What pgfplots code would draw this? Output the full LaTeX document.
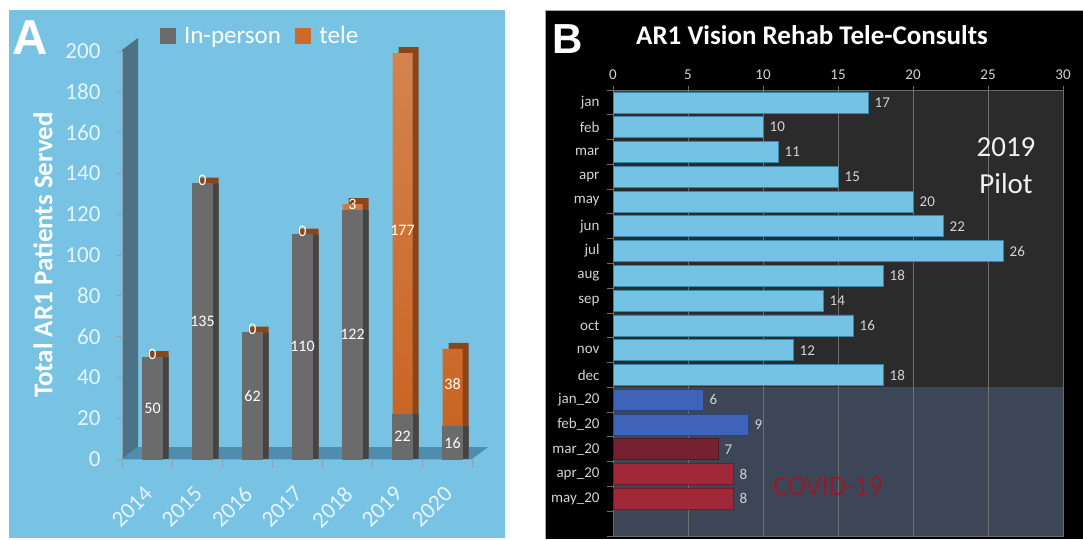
\documentclass[border=0pt]{standalone}
\usepackage{pgfplots}
\pgfplotsset{compat=1.18}
\usepackage{pgfplotstable}
\usepackage{fontspec}
\setmainfont{Carlito}
\newfontfamily\arialfont{Liberation Sans}
\definecolor{skyA}{HTML}{78C3E4}
\definecolor{wallA}{HTML}{4B7286}
\definecolor{floorA}{HTML}{4F8DAE}
\definecolor{axisA}{HTML}{8FA3B0}
\definecolor{grayF}{HTML}{6B6B6B}
\definecolor{grayS}{HTML}{444444}
\definecolor{orF}{HTML}{C8621F}
\definecolor{orT}{HTML}{D4834F}
\definecolor{orL}{HTML}{CB6A2B}
\definecolor{orS}{HTML}{8A4519}
\definecolor{lbl}{HTML}{E4F4FB}
\definecolor{panelB}{HTML}{2B2B2B}
\definecolor{slateB}{HTML}{3D4657}
\definecolor{barL}{HTML}{74C3E5}
\definecolor{barLedge}{HTML}{3A86A8}
\definecolor{barB}{HTML}{3F63B9}
\definecolor{barDR}{HTML}{76212F}
\definecolor{barR}{HTML}{A12838}
\definecolor{covid}{HTML}{8E1D2D}
\definecolor{txtB}{HTML}{D4D4D4}
\definecolor{tickB}{HTML}{6B6B6B}
\definecolor{gridB}{HTML}{6E6E6E}
\newcommand{\fs}[1]{\fontsize{#1}{#1}\selectfont}

\pgfplotstableread{
x inp tele
0 50 0
1 135 0
2 62 0
3 110 0
4 122 3
5 22 177
6 16 38
}\dataA

\pgfplotstableread{
y v
16 17
15 10
14 11
13 15
12 20
11 22
10 26
9 18
8 14
7 16
6 12
5 18
}\dataB
\pgfplotstableread{
y v
4 6
3 9
}\dataBb
\pgfplotstableread{
y v
2 7
}\dataBc
\pgfplotstableread{
y v
1 8
0 8
}\dataBd

\pgfplotsset{panelA/.style={anchor=south west, scale only axis,
  width=350pt, height=408pt, xmin=-0.5, xmax=6.5, ymin=0, ymax=200, clip=false}}

\begin{document}
\begin{tikzpicture}[x=1pt,y=1pt]
\fill[white] (0,0) rectangle (1083,539);
% ---------- panel A ----------
\fill[skyA] (9,1) rectangle (505,529);
\fill[wallA] (122,80) -- (122,489) -- (138,501) -- (138,92) -- cycle;
\fill[floorA] (122,80) -- (472,80) -- (488,92) -- (138,92) -- cycle;
\node[text=white, font=\arialfont\bfseries\fs{49}] at (30,501) {A};

% depth faces: total (tele colour) shifted back and up
\begin{axis}[panelA, at={(128pt,86pt)}, hide axis, ybar, bar width=20pt]
\addplot[fill=orS, draw=none, bar shift=5.5pt] table[x=x, y expr=\thisrow{inp}+\thisrow{tele}]{\dataA};
\end{axis}
% depth faces: in-person part shifted back
\begin{axis}[panelA, at={(128pt,80pt)}, hide axis, ybar, bar width=20pt]
\addplot[fill=grayS, draw=none, bar shift=5.5pt] table[x=x, y=inp]{\dataA};
\end{axis}

\begin{axis}[panelA, at={(122pt,80pt)},
  ybar, bar width=20pt, bar shift=5.5pt,
  axis x line*=bottom, axis y line*=left,
  axis line style={draw=axisA, line width=0.8pt},
  ytick={0,20,...,200}, xtick={0,...,6},
  xticklabels={2014,2015,2016,2017,2018,2019,2020},
  minor xtick={-0.5,0.5,...,6.5},
  tick align=outside,
  major tick length=6pt, minor tick length=9pt,
  major x tick style={draw=none},
  minor x tick style={draw=axisA, line width=0.8pt},
  ytick style={draw=axisA, line width=0.8pt},
  /pgf/number format/assume math mode=true,
  yticklabel style={text=lbl, font=\fs{23}, xshift=-12pt},
  xticklabel style={text=lbl, font=\fs{23}, xshift=-4pt, yshift=-15pt, rotate=45, anchor=north east},
  ylabel={Total AR1 Patients Served},
  ylabel style={text=white, font=\bfseries\fs{27}, at={(axis description cs:-0.226,0.5)}, anchor=center},
  legend style={draw=none, fill=none, text=white, font=\fs{25},
    at={(axis description cs:0.394,1.037)}, anchor=center, legend columns=2,
    /tikz/every even column/.append style={column sep=12pt}}]
\addlegendimage{legend image code/.code={\fill[grayF] (0pt,-7.5pt) rectangle (15pt,7.5pt); \path (22pt,0pt);}}
\addlegendentry{In-person}
\addlegendimage{legend image code/.code={\fill[orL] (0pt,-7.5pt) rectangle (15pt,7.5pt); \path (22pt,0pt);}}
\addlegendentry{tele}
% tele segment: drawn to the bar total, in-person drawn over its lower part
\addplot[top color=orT, bottom color=orF, draw=none, bar shift=5.5pt, forget plot]
  table[x=x, y expr=\thisrow{inp}+\thisrow{tele}]{\dataA};
\addplot[fill=grayF, draw=grayF, line width=0.5pt, bar shift=5.5pt, forget plot]
  table[x=x, y=inp]{\dataA};
\end{axis}

% value labels, centred in each segment
\begin{axis}[panelA, at={(122pt,80pt)}, hide axis,
  nodes near coords, point meta=explicit,
  every node near coord/.style={anchor=center, text=white, font=\fs{16}},
  /pgf/number format/assume math mode=true]
\addplot[draw=none, mark=none]
  table[x expr=\thisrow{x}+0.11, y expr=\thisrow{inp}/2, meta=inp]{\dataA};
\addplot[draw=none, mark=none]
  table[x expr=\thisrow{x}+0.11, y expr=\thisrow{inp}+\thisrow{tele}/2+1.5, meta=tele]{\dataA};
\end{axis}

% ---------- panel B ----------
\fill[black] (545,0) rectangle (1083,529);
\draw[gray!70, line width=0.8pt] (545,0) -- (545,529) -- (1083,529);
\fill[panelB] (613,151.7) rectangle (1063,449);
\fill[slateB] (613,3) rectangle (1063,151.7);
\node[text=white, font=\arialfont\bfseries\fs{42}] at (568,500) {B};
\node[text=white, font=\bfseries\fs{27}] at (812,504) {AR1 Vision Rehab Tele-Consults};

\begin{axis}[at={(613pt,3pt)}, anchor=south west, scale only axis,
  width=450pt, height=446pt, xmin=0, xmax=30, ymin=-1.5, ymax=16.5,
  xbar, bar width=21pt, bar shift=0pt,
  xtick={0,5,...,30}, xticklabel pos=right, xtick pos=right,
  ytick={0,...,16},
  yticklabels={may\_20,apr\_20,mar\_20,feb\_20,jan\_20,dec,nov,oct,sep,aug,jul,jun,may,apr,mar,feb,jan},
  ytick pos=left,
  minor ytick={-1.5,-0.5,...,16.5},
  tick align=outside,
  major y tick style={draw=none},
  minor y tick style={draw=tickB, line width=0.8pt},
  x tick style={draw=tickB, line width=0.8pt},
  major tick length=4pt, minor tick length=6pt,
  xmajorgrids, grid style={draw=gridB, line width=0.8pt},
  axis line style={draw=tickB, line width=0.8pt},
  ticklabel style={text=txtB, font=\fs{15}},
  xticklabel style={yshift=3pt},
  yticklabel style={xshift=-6pt},
  /pgf/number format/assume math mode=true,
  nodes near coords,
  every node near coord/.append style={text=txtB, font=\fs{15}, xshift=3pt},
  clip=false]
\addplot[fill=barL, draw=barLedge, line width=0.6pt, bar shift=0pt] table[x=v,y=y]{\dataB};
\addplot[fill=barB, draw=barB!70!black, line width=0.6pt, bar shift=0pt] table[x=v,y=y]{\dataBb};
\addplot[fill=barDR, draw=barDR!70!black, line width=0.6pt, bar shift=0pt] table[x=v,y=y]{\dataBc};
\addplot[fill=barR, draw=barR!70!black, line width=0.6pt, bar shift=0pt] table[x=v,y=y]{\dataBd};
\end{axis}
\node[text=white!90!gray, font=\fs{29}] at (1006,392) {2019};
\node[text=white!90!gray, font=\fs{29}] at (1006,355) {Pilot};
\node[text=covid, font=\fs{28}] at (828,52) {COVID-19};
\pgfresetboundingbox
\useasboundingbox (0,0) rectangle (1083,539);
\end{tikzpicture}
\end{document}
